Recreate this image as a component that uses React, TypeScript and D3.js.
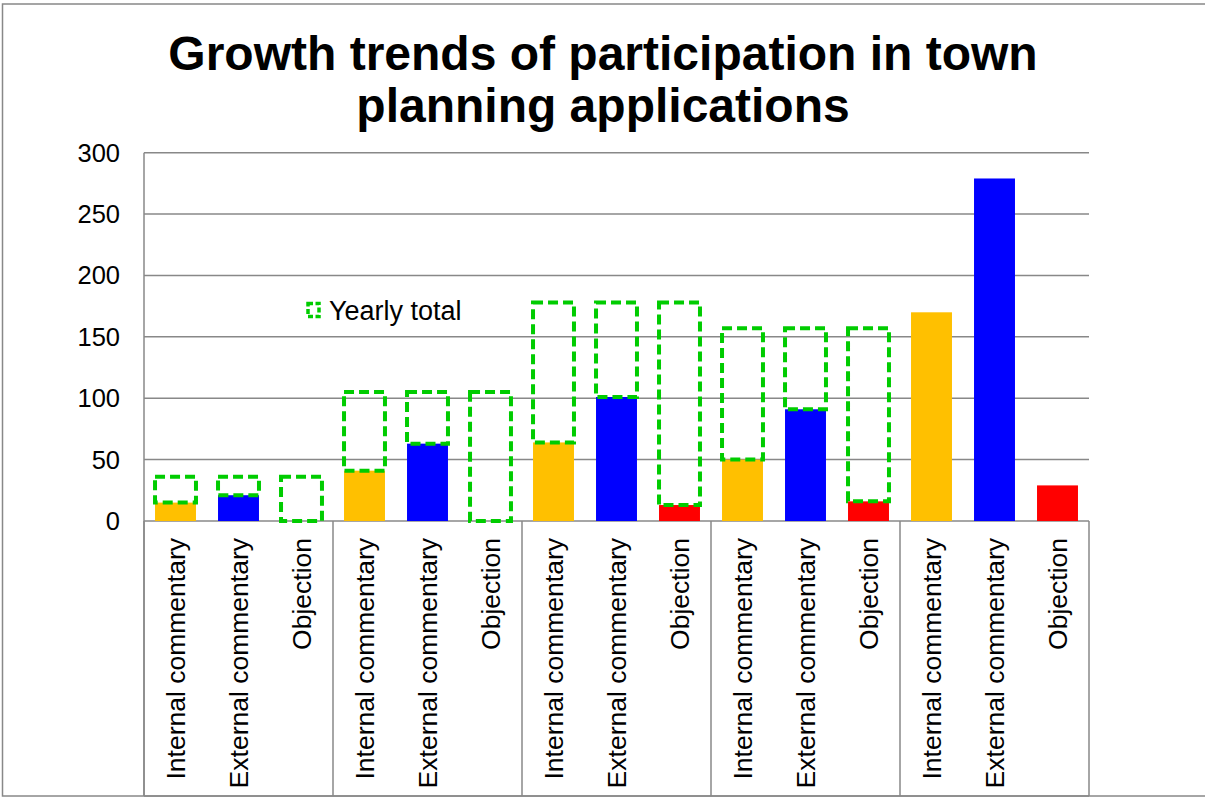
import React from 'react'
import { scaleBand, scaleLinear, range } from 'd3'

// chart values
const categories = ['Internal commentary', 'External commentary', 'Objection']
const internalCommentary = [15, 41, 64, 50, 170]
const externalCommentary = [21, 63, 101, 91, 279]
const objection = [0, 0, 13, 16, 29]
// yearly total (null = not drawn)
const yearlyTotal: (number | null)[] = [36, 105, 178, 157, null]
const yTicks = [0, 50, 100, 150, 200, 250, 300]
const barColors = ['#FFC000', '#0000FF', '#FF0000']

const W = 1205
const H = 797
const font = '"Liberation Sans", Arial, sans-serif'

export default function App() {
  const margin = { top: 152.7, left: 144, right: 1089, bottom: 521 }

  const series = [internalCommentary, externalCommentary, objection]
  const rows = range(internalCommentary.length).flatMap(g =>
    categories.map((c, i) => ({ key: g + '-' + i, group: g, cat: c, idx: i, value: series[i][g], total: yearlyTotal[g] }))
  )

  const x = scaleBand<string>()
    .domain(rows.map(d => d.key))
    .range([margin.left, margin.right])
    .paddingInner(0.35)
    .paddingOuter(0.175)

  const y = scaleLinear().domain([0, 300]).range([margin.bottom, margin.top])

  const step = x.step()
  const groupEdges = range(internalCommentary.length + 1).map(g => margin.left + g * 3 * step)

  return (
    <svg width={W} height={H} style={{ position: 'absolute', left: 0, top: 0, background: '#fff' }} fontFamily={font}>
      <rect x={2.5} y={4} width={W + 10} height={792} fill="#fff" stroke="#888" strokeWidth={1.5} />

      {/* title */}
      <text x={603} y={70} textAnchor="middle" fontSize={48} fontWeight="bold">Growth trends of participation in town</text>
      <text x={603} y={122} textAnchor="middle" fontSize={48} fontWeight="bold">planning applications</text>

      {/* gridlines */}
      {yTicks.map(t => (
        <line key={t} x1={margin.left} x2={margin.right} y1={y(t)} y2={y(t)} stroke="#888" strokeWidth={1.5} />
      ))}
      {yTicks.map(t => (
        <text key={'l' + t} x={120} y={y(t)} dy="0.35em" textAnchor="end" fontSize={25.5}>{t}</text>
      ))}

      {/* axes */}
      <line x1={margin.left} x2={margin.left} y1={margin.top} y2={796} stroke="#888" strokeWidth={1.5} />
      {groupEdges.map((gx, i) => (
        <line key={'g' + i} x1={gx} x2={gx} y1={margin.bottom} y2={796} stroke="#888" strokeWidth={1.5} />
      ))}
      <line x1={margin.left} x2={margin.right} y1={796} y2={796} stroke="#888" strokeWidth={1.5} />

      {/* bars */}
      {rows.map(d => (
        <rect key={'b' + d.key} x={x(d.key)} width={x.bandwidth()} y={y(d.value)} height={y(0) - y(d.value)} fill={barColors[d.idx]} />
      ))}

      {/* yearly total boxes */}
      {rows.filter(d => d.total != null).map(d => (
        <rect key={'t' + d.key} x={x(d.key)} width={x.bandwidth()} y={y(d.total as number)}
          height={y(d.value) - y(d.total as number)} fill="none" stroke="#00CC00" strokeWidth={4}
          strokeDasharray="10 5" />
      ))}

      {/* category labels */}
      {rows.map(d => (
        <text key={'c' + d.key} transform={`translate(${(x(d.key) as number) + x.bandwidth() / 2},538) rotate(-90)`}
          dy="0.35em" textAnchor="end" fontSize={26.5}>{d.cat}</text>
      ))}

      {/* legend */}
      <rect x={308} y={303.5} width={11} height={13} fill="none" stroke="#00CC00" strokeWidth={3.5} strokeDasharray="5 2.5" />
      <text x={329} y={311} dy="0.35em" fontSize={27}>Yearly total</text>
    </svg>
  )
}
